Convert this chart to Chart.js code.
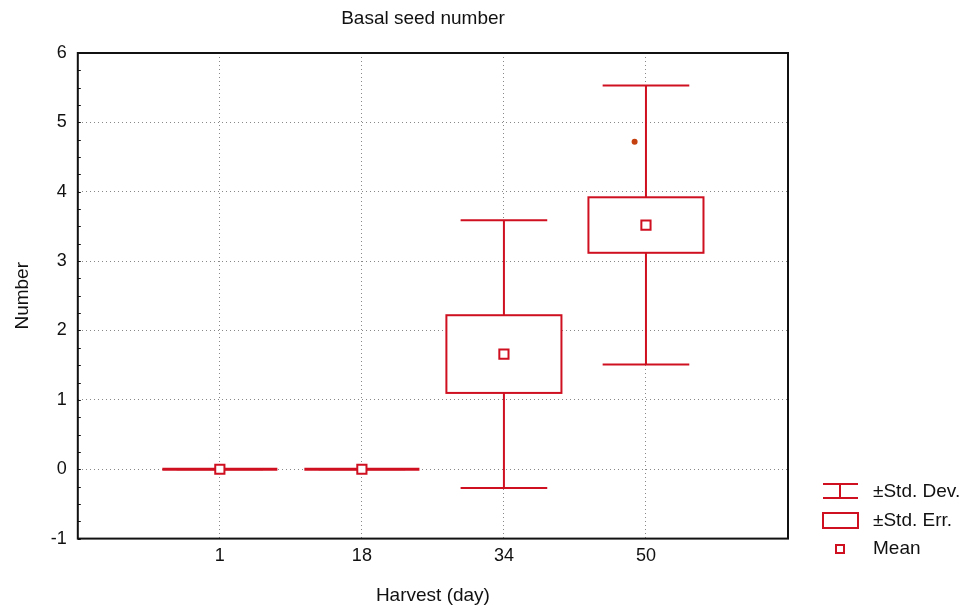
<!DOCTYPE html>
<html lang="en">
<head>
<meta charset="UTF-8">
<title>Basal seed number</title>
<script src="https://cdn.jsdelivr.net/npm/chart.js"></script>
<style>
    html, body { margin: 0; padding: 0; background: #fff; }
    #wrap { width: 965px; height: 609px; }
</style>
</head>
<body>
<div id="wrap"><canvas id="seedChart" width="965" height="609"></canvas></div>
<script>
// harvest days and the values
var harvestDays = ['1', '18', '34', '50'];
var means = [0, 0, 1.66, 3.52];
var stdErr = [0, 0, 0.56, 0.40];
var stdDev = [0, 0, 1.93, 2.01];
// small stray dot next to the day 50 whisker
var strayMark = [{ x: 2.92, y: 4.72 }];

var red = '#cf1020';
var font = '"Liberation Sans", Arial, sans-serif';
var boxHalf = 0.405;
var capHalf = 0.305;

var meanPoints = means.map(function (m, i) { return { x: i, y: m }; });

// draws the ±SE boxes and ±SD whiskers from the scales, plus frame, title, legend
var boxWhiskerPlugin = {
    id: 'boxWhisker',
    beforeDatasetsDraw: function (chart) {
        var ctx = chart.ctx;
        var xs = chart.scales.x, ys = chart.scales.y;
        ctx.save();
        ctx.strokeStyle = red;
        ctx.lineWidth = 2;
        for (var i = 0; i < means.length; i++) {
            var cx = xs.getPixelForValue(i);
            var sdTop = ys.getPixelForValue(means[i] + stdDev[i]);
            var sdBot = ys.getPixelForValue(means[i] - stdDev[i]);
            var seTop = ys.getPixelForValue(means[i] + stdErr[i]);
            var seBot = ys.getPixelForValue(means[i] - stdErr[i]);
            var bl = xs.getPixelForValue(i - boxHalf), br = xs.getPixelForValue(i + boxHalf);
            var cl = xs.getPixelForValue(i - capHalf), cr = xs.getPixelForValue(i + capHalf);

            ctx.beginPath();
            ctx.moveTo(cx, sdTop); ctx.lineTo(cx, seTop);
            ctx.moveTo(cx, seBot); ctx.lineTo(cx, sdBot);
            ctx.moveTo(cl, sdTop); ctx.lineTo(cr, sdTop);
            ctx.moveTo(cl, sdBot); ctx.lineTo(cr, sdBot);
            ctx.stroke();

            if (seBot - seTop < 1) {
                ctx.beginPath();
                ctx.lineWidth = 3;
                ctx.moveTo(bl, seTop); ctx.lineTo(br, seTop);
                ctx.stroke();
                ctx.lineWidth = 2;
            } else {
                ctx.fillStyle = '#fff';
                ctx.fillRect(bl, seTop, br - bl, seBot - seTop);
                ctx.strokeRect(bl, seTop, br - bl, seBot - seTop);
            }
        }
        ctx.restore();
    },
    afterDraw: function (chart) {
        var ctx = chart.ctx;
        var a = chart.chartArea;
        var ys = chart.scales.y;
        ctx.save();
        // frame with small inside ticks on the left edge
        ctx.strokeStyle = '#111';
        ctx.lineWidth = 2;
        ctx.strokeRect(a.left, a.top, a.right - a.left, a.bottom - a.top);
        ctx.lineWidth = 1;
        ctx.beginPath();
        for (var v = -1; v <= 6; v += 0.25) {
            var py = Math.round(ys.getPixelForValue(v)) + 0.5;
            ctx.moveTo(a.left, py); ctx.lineTo(a.left + 3, py);
        }
        ctx.stroke();

        // title
        ctx.fillStyle = '#111';
        ctx.font = '19px ' + font;
        ctx.textAlign = 'center';
        ctx.textBaseline = 'middle';
        ctx.fillText('Basal seed number', 423, 19);

        // legend
        ctx.strokeStyle = red;
        ctx.lineWidth = 2;
        ctx.beginPath();
        ctx.moveTo(823, 484); ctx.lineTo(858, 484);
        ctx.moveTo(840, 484); ctx.lineTo(840, 498);
        ctx.moveTo(823, 498); ctx.lineTo(858, 498);
        ctx.stroke();
        ctx.strokeRect(823, 513, 35, 15);
        ctx.strokeRect(836, 545, 8, 8);

        ctx.fillStyle = '#111';
        ctx.textAlign = 'left';
        ctx.fillText('\u00b1Std. Dev.', 873, 492);
        ctx.fillText('\u00b1Std. Err.', 873, 521);
        ctx.fillText('Mean', 873, 549);
        ctx.restore();
    }
};

var ctxSeed = document.getElementById('seedChart').getContext('2d');
var seedChart = new Chart(ctxSeed, {
    type: 'scatter',
    data: {
        datasets: [{
            label: 'Mean',
            data: meanPoints,
            pointStyle: 'rect',
            pointRadius: 6.5,
            pointBorderWidth: 2,
            borderColor: red,
            backgroundColor: '#fff'
        }, {
            label: 'stray',
            data: strayMark,
            pointStyle: 'circle',
            pointRadius: 3,
            borderWidth: 0,
            backgroundColor: '#c4400f'
        }]
    },
    options: {
        responsive: false,
        animation: false,
        layout: { padding: { left: 11, right: 177, top: 53, bottom: 2 } },
        plugins: {
            legend: { display: false },
            tooltip: { enabled: false },
            title: { display: false }
        },
        scales: {
            x: {
                type: 'linear',
                min: -1,
                max: 4,
                grid: {
                    drawTicks: false,
                    color: function (c) {
                        return (c.tick.value < 0 || c.tick.value > 3) ? 'rgba(0,0,0,0)' : '#888';
                    },
                    lineWidth: 1
                },
                border: { display: false, dash: [1, 3] },
                ticks: {
                    stepSize: 1,
                    padding: 7,
                    color: '#111',
                    font: { family: font, size: 18 },
                    callback: function (v) { return harvestDays[v] !== undefined ? harvestDays[v] : ''; }
                },
                title: {
                    display: true,
                    text: 'Harvest (day)',
                    color: '#111',
                    font: { family: font, size: 19 },
                    padding: { top: 10, bottom: 0 }
                }
            },
            y: {
                min: -1,
                max: 6,
                grid: {
                    drawTicks: false,
                    color: function (c) {
                        return (c.tick.value <= -1 || c.tick.value >= 6) ? 'rgba(0,0,0,0)' : '#888';
                    },
                    lineWidth: 1
                },
                border: { display: false, dash: [1, 3] },
                ticks: {
                    stepSize: 1,
                    padding: 11,
                    color: '#111',
                    font: { family: font, size: 18 }
                },
                title: {
                    display: true,
                    text: 'Number',
                    color: '#111',
                    font: { family: font, size: 19 },
                    padding: { top: 0, bottom: 6 }
                }
            }
        }
    },
    plugins: [boxWhiskerPlugin]
});
</script>
</body>
</html>
